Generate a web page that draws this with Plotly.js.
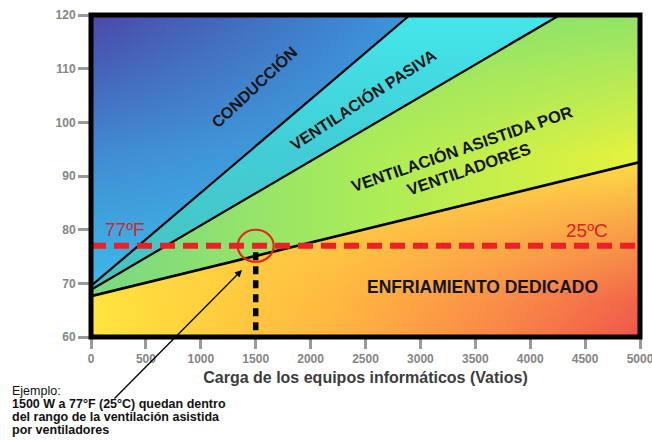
<!DOCTYPE html>
<html>
<head>
<meta charset="utf-8">
<script src="https://cdn.plot.ly/plotly-3.0.1.min.js"></script>
<style>
  html, body { margin: 0; padding: 0; background: #ffffff; }
  #chart { width: 652px; height: 440px; }
</style>
</head>
<body>
<div id="chart"></div>
<script>
// ---------------- data ----------------
var xTicks = [0, 500, 1000, 1500, 2000, 2500, 3000, 3500, 4000, 4500, 5000];
var yTicks = [60, 70, 80, 90, 100, 110, 120];
var loadRange = [0, 5000];      // W
var tempRange = [60, 120];      // °F

// boundary: conducción / ventilación pasiva
var lineAx = [0, 2905];
var lineAy = [69.5, 120];
// boundary: ventilación pasiva / ventilación asistida
var lineBx = [0, 4270];
var lineBy = [68.8, 120];
// boundary: ventilación asistida / enfriamiento dedicado
var lineCx = [0, 5000];
var lineCy = [67.6, 92.6];

var refTempF = 77;          // 77ºF = 25ºC
var exampleLoad = 1500;     // W
var exampleTop = 75.8;      // top of the dotted marker
var arrowTip = [1375, 72.5];

var regionLabels = ['CONDUCCIÓN', 'VENTILACIÓN PASIVA',
  'VENTILACIÓN ASISTIDA POR<br>VENTILADORES', 'ENFRIAMIENTO DEDICADO'];
var tempLabels = ['77ºF', '25ºC'];
var xTitle = 'Carga de los equipos informáticos (Vatios)';
var exampleLines = ['Ejemplo:',
  '<b>1500 W a 77°F (25°C) quedan dentro</b>',
  '<b>del rango de la ventilación asistida</b>',
  '<b>por ventiladores</b>'];

// ---------------- helpers ----------------
function rev(a) { return a.slice().reverse(); }
var xMin = loadRange[0], xMax = loadRange[1], yMin = tempRange[0], yMax = tempRange[1];

// region polygons built from the boundary lines and axis limits
var regConX = lineAx.concat([xMin]);
var regConY = lineAy.concat([yMax]);
var regPasX = lineBx.concat(rev(lineAx));
var regPasY = lineBy.concat(rev(lineAy));
var regAsiX = lineCx.concat([xMax]).concat(rev(lineBx));
var regAsiY = lineCy.concat([yMax]).concat(rev(lineBy));
var regDedX = lineCx.concat([xMax, xMin]);
var regDedY = lineCy.concat([yMin, yMin]);

function region(xs, ys, grad) {
  return {
    type: 'scatter', mode: 'none', x: xs, y: ys, fill: 'toself',
    fillcolor: 'rgba(0,0,0,0)', fillgradient: grad,
    hoverinfo: 'skip', showlegend: false
  };
}
function boundary(xs, ys, w) {
  return {
    type: 'scatter', mode: 'lines', x: xs, y: ys,
    line: {color: '#000000', width: w}, hoverinfo: 'skip', showlegend: false
  };
}

var traces = [
  // conducción
  region(regConX, regConY, {type: 'horizontal', start: 0, stop: 2905,
    colorscale: [[0, '#4a48a6'], [1, '#3b96da']]}),
  region(regConX, regConY, {type: 'vertical', start: 69.5, stop: 120,
    colorscale: [[0, 'rgba(60,186,234,1)'], [0.5, 'rgba(60,178,232,0.62)'], [1, 'rgba(60,170,230,0)']]}),
  // ventilación pasiva
  region(regPasX, regPasY, {type: 'vertical', start: 68.8, stop: 120,
    colorscale: [[0, '#48c2bc'], [0.5, '#42cdd6'], [1, '#44e6ea']]}),
  // ventilación asistida
  region(regAsiX, regAsiY, {type: 'horizontal', start: 0, stop: 5000,
    colorscale: [[0, '#78d884'], [0.5, '#aaec58'], [1, '#e6f23c']]}),
  region(regAsiX, regAsiY, {type: 'vertical', start: 67.6, stop: 120,
    colorscale: [[0, 'rgba(130,225,112,0)'], [0.5, 'rgba(130,225,112,0)'], [1, 'rgba(130,225,112,0.85)']]}),
  // enfriamiento dedicado
  region(regDedX, regDedY, {type: 'horizontal', start: 0, stop: 5000,
    colorscale: [[0, '#ffe63c'], [0.45, '#ffb440'], [0.75, '#f98448'], [1, '#f0564a']]}),
  region(regDedX, regDedY, {type: 'vertical', start: 60, stop: 92.6,
    colorscale: [[0, 'rgba(255,215,70,0)'], [0.2, 'rgba(255,215,70,0.1)'], [0.6, 'rgba(255,215,70,0.55)'], [1, 'rgba(255,226,70,0.95)']]}),
  boundary(lineAx, lineAy, 2.2),
  boundary(lineBx, lineBy, 2.2),
  boundary(lineCx, lineCy, 2.6)
];

var tickFont = {family: 'Arial, "Liberation Sans", sans-serif', size: 12, color: '#858585', weight: 'bold'};
var labelFont = {family: 'Arial, "Liberation Sans", sans-serif', size: 16, color: '#141414', weight: 'bold'};

var annotations = [
  {x: 1484, y: 106.6, text: regionLabels[0], textangle: -43, font: labelFont, showarrow: false},
  {x: 2486, y: 104.3, text: regionLabels[1], textangle: -33, font: labelFont, showarrow: false},
  {x: 3412, y: 93.2, text: regionLabels[2], textangle: -19,
    font: {family: labelFont.family, size: 16.5, color: '#141414', weight: 'bold'}, showarrow: false},
  {x: 3570, y: 69.3, text: regionLabels[3], textangle: 0,
    font: {family: labelFont.family, size: 17.5, color: '#141414', weight: 'bold'}, showarrow: false},
  {x: 310, y: 80.1, text: tempLabels[0], showarrow: false,
    font: {family: 'Arial, "Liberation Sans", sans-serif', size: 19, color: '#cf2537'}},
  {x: 4517, y: 79.9, text: tempLabels[1], showarrow: false,
    font: {family: 'Arial, "Liberation Sans", sans-serif', size: 19, color: '#e3201c'}},
  {x: arrowTip[0], y: arrowTip[1], text: '', showarrow: true, arrowhead: 2, arrowsize: 1.1,
    arrowwidth: 1.3, arrowcolor: '#000000', ax: -129, ay: 130, axref: 'pixel', ayref: 'pixel'}
];
exampleLines.forEach(function (t, i) {
  annotations.push({
    xref: 'paper', yref: 'paper', x: 0, y: 0, xanchor: 'left', yanchor: 'middle',
    xshift: -81, yshift: -54 - 13 * i, text: t, showarrow: false, align: 'left',
    font: {family: 'Arial, "Liberation Sans", sans-serif', size: 12.5, color: '#111111'}
  });
});

var shapes = [
  {type: 'line', xref: 'paper', yref: 'y', x0: 0, x1: 1, y0: refTempF, y1: refTempF,
    line: {color: '#ee1f25', width: 6, dash: '15px,8px'}, layer: 'above'},
  {type: 'line', xref: 'x', yref: 'y', x0: exampleLoad, x1: exampleLoad, y0: exampleTop, y1: yMin,
    line: {color: '#000000', width: 5.5, dash: '8px,6px'}, layer: 'above'},
  {type: 'circle', xref: 'x', yref: 'y', xsizemode: 'pixel', ysizemode: 'pixel',
    xanchor: exampleLoad, yanchor: refTempF, x0: -18, x1: 18, y0: -16, y1: 16,
    line: {color: '#e8231f', width: 2.2}, layer: 'above'},
  {type: 'rect', xref: 'paper', yref: 'paper', x0: 0, x1: 1, y0: 0, y1: 1,
    line: {color: '#000000', width: 5}, layer: 'above'}
];

var layout = {
  width: 652, height: 440,
  margin: {l: 91, r: 12, t: 15, b: 103},
  paper_bgcolor: '#ffffff', plot_bgcolor: '#ffffff',
  showlegend: false,
  xaxis: {
    range: loadRange, tickvals: xTicks, ticktext: xTicks.map(String),
    ticks: 'outside', ticklen: 11, tickwidth: 3, tickcolor: '#9a9a9a',
    ticklabeloverflow: 'allow',
    tickfont: tickFont, showgrid: false, zeroline: false, showline: false, fixedrange: true,
    title: {text: xTitle, standoff: 6,
      font: {family: 'Arial, "Liberation Sans", sans-serif', size: 16, color: '#3c3c3c', weight: 'bold'}}
  },
  yaxis: {
    range: tempRange, tickvals: yTicks, ticktext: yTicks.map(String),
    ticks: 'outside', ticklen: 12, tickwidth: 3, tickcolor: '#9a9a9a',
    ticklabeloverflow: 'allow',
    tickfont: tickFont, showgrid: false, zeroline: false, showline: false, fixedrange: true
  },
  annotations: annotations,
  shapes: shapes
};

Plotly.newPlot('chart', traces, layout, {staticPlot: true, displayModeBar: false});
</script>
</body>
</html>
